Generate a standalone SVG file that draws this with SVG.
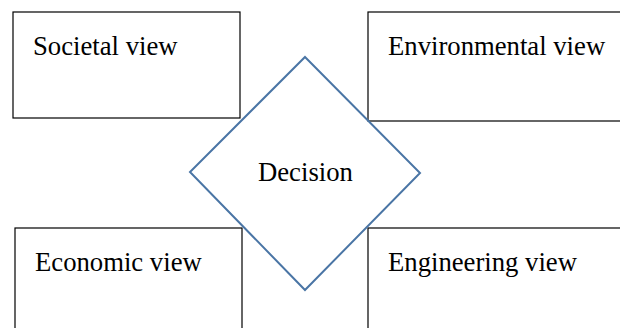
<svg xmlns="http://www.w3.org/2000/svg" width="620" height="328" viewBox="0 0 620 328">
<style>
.box{fill:#fff;stroke:#000;stroke-width:1.2}
.lbl{font-family:"Liberation Serif","Times New Roman",serif;font-size:26.7px;fill:#000}
.dia{fill:none;stroke:#4a75a5;stroke-width:2}
</style>
<rect width="620" height="328" fill="#fff"/>
<g id="societal"><rect class="box" x="13" y="12" width="227" height="106"/><text class="lbl" x="33" y="55">Societal view</text></g>
<g id="environmental"><rect class="box" x="368" y="12" width="260" height="109"/><text class="lbl" x="388" y="55">Environmental view</text></g>
<g id="economic"><rect class="box" x="15" y="228" width="227" height="110"/><text class="lbl" x="35" y="271">Economic view</text></g>
<g id="engineering"><rect class="box" x="368" y="228" width="260" height="110"/><text class="lbl" x="388" y="271">Engineering view</text></g>
<g id="decision"><polygon class="dia" points="305,57 420,173 305,290 190,172"/><text class="lbl" x="258" y="181">Decision</text></g>
<g id="connectors"></g>
</svg>
